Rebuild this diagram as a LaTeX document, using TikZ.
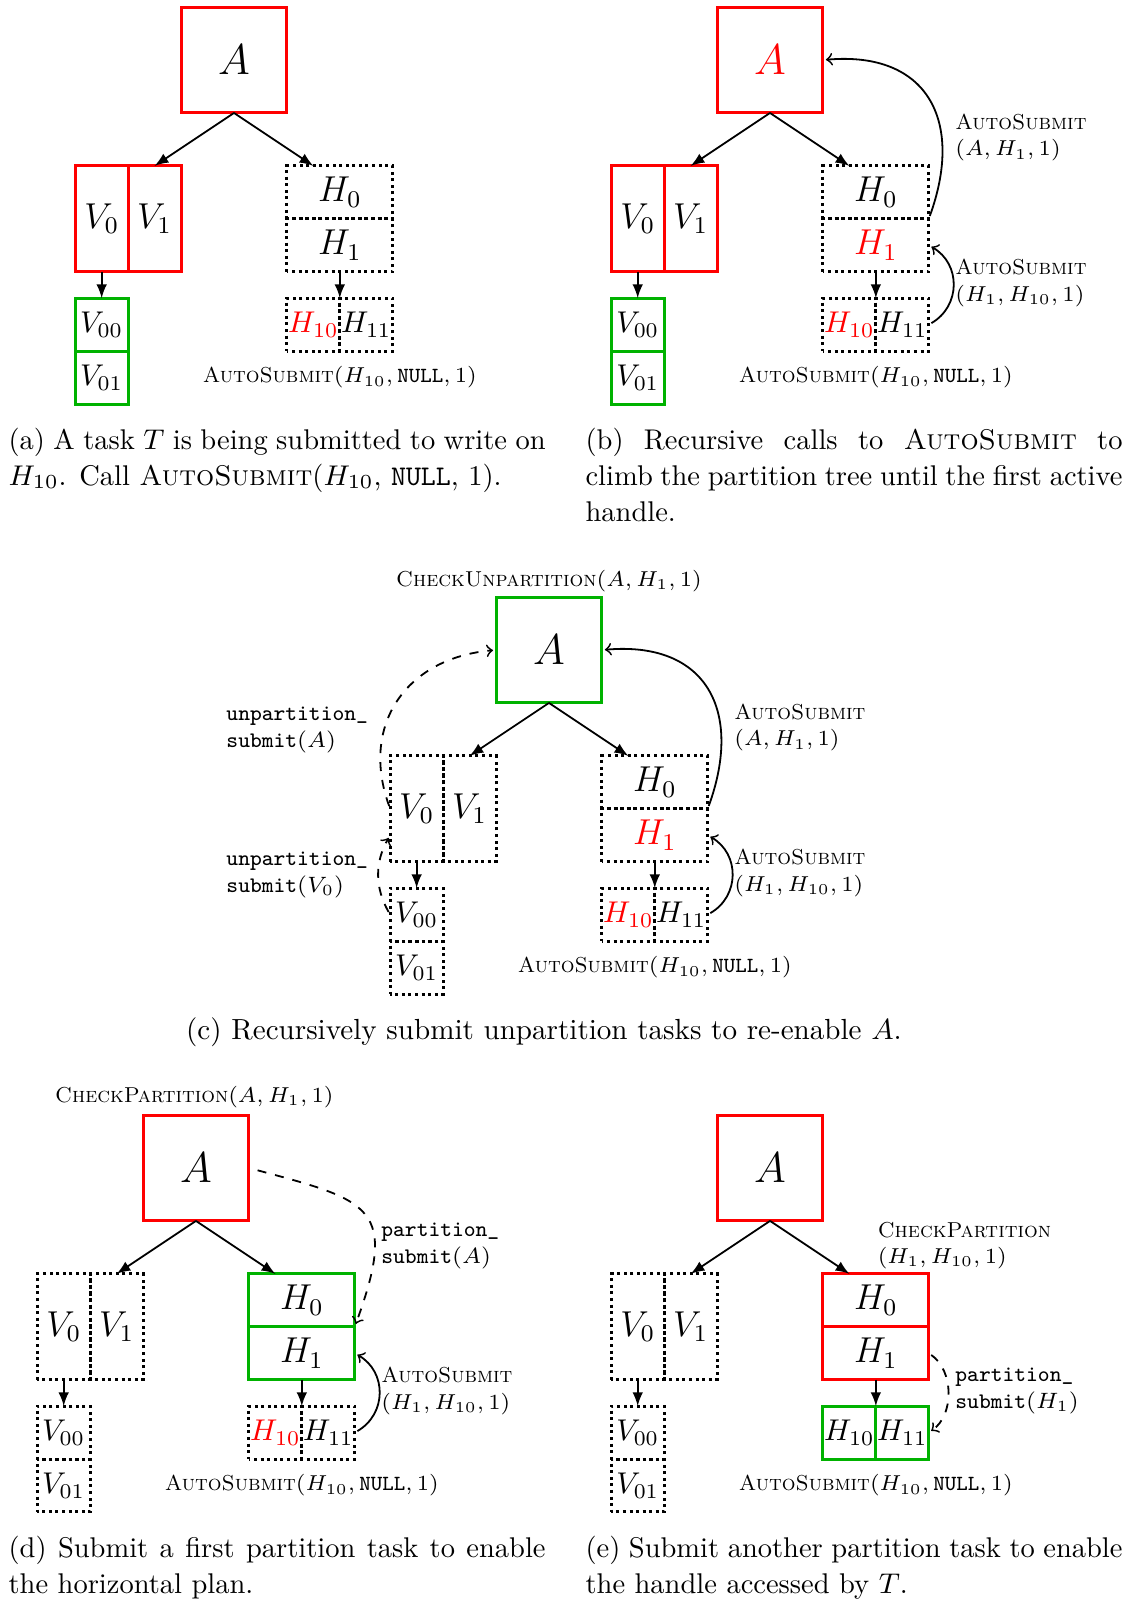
\RequirePackage{fix-cm}
\documentclass[tikz,border=0pt]{standalone}
\usepackage{amsmath}
\usepackage{tikz}
\usetikzlibrary{arrows,positioning,calc}

\definecolor{okgreen}{RGB}{0,178,0}
\hyphenpenalty=10000

\begin{document}
\begin{tikzpicture}[node distance=0.62cm, auto,
    box/.style={draw, line width=1pt, inner sep=0pt, outer sep=0pt},
    handle/.style={box, minimum width=1.24cm, minimum height=1.24cm, font=\Large},
    vpart/.style={box, minimum width=0.62cm, minimum height=1.24cm, font=\large},
    hpart/.style={box, minimum width=1.24cm, minimum height=0.62cm, font=\large},
    leaf/.style={box, minimum width=0.62cm, minimum height=0.62cm},
    busy/.style={draw=red},
    ready/.style={draw=okgreen},
    idle/.style={draw=black, dash pattern=on 1pt off 1.197pt, dash phase=0.5pt},
    link/.style={-latex, semithick},
    call/.style={->, semithick, shorten <=1pt, shorten >=1pt},
    lbl/.style={font=\fontsize{7.2}{8.8}\selectfont, inner sep=1pt, align=left},
    ttlbl/.style={lbl, font=\fontsize{7.4}{9}\selectfont},
    subcap/.style={text width=179pt, align=justify, inner sep=0pt, anchor=base west,
                   font=\fontsize{9.5}{12}\selectfont}]
  \useasboundingbox (0,0) rectangle (13.262,-18.756);

  % (a)
  \begin{scope}[shift={(2.741,-0.703)}, name prefix=a-]
    \node[handle, busy] (A) {$A$};
    \node[vpart, busy, below left=0.62cm and 0.62cm of A.south] (V1) {$V_1$};
    \node[vpart, busy, left=0pt of V1] (V0) {$V_0$};
    \node[leaf, ready, below=0.31cm of V0] (V00) {$V_{00}$};
    \node[leaf, ready, below=0pt of V00] (V01) {$V_{01}$};
    \node[hpart, idle, below right=0.62cm and 0.62cm of A.south] (H0) {$H_0$};
    \node[hpart, idle, below=0pt of H0] (H1) {$H_1$};
    \node[leaf, idle, text=red, below left=0.31cm and 0pt of H1.south] (H10) {$H_{10}$};
    \node[leaf, idle, right=0pt of H10] (H11) {$H_{11}$};
    \node[lbl] (auto) at ($(H10.south east)+(0,-0.31)$) {\textsc{AutoSubmit}$(H_{10}, \texttt{NULL}, 1)$};
    \path[link] (A.south) edge (V1.north)
                          edge ($(H0.north west)!0.5!(H0.north)$)
                (V0.south) edge (V00.north)
                (H1.south) edge (H10.north east);
  \end{scope}

  % (b)
  \begin{scope}[shift={(9.021,-0.703)}, name prefix=b-]
    \node[handle, busy, text=red] (A) {$A$};
    \node[vpart, busy, below left=0.62cm and 0.62cm of A.south] (V1) {$V_1$};
    \node[vpart, busy, left=0pt of V1] (V0) {$V_0$};
    \node[leaf, ready, below=0.31cm of V0] (V00) {$V_{00}$};
    \node[leaf, ready, below=0pt of V00] (V01) {$V_{01}$};
    \node[hpart, idle, below right=0.62cm and 0.62cm of A.south] (H0) {$H_0$};
    \node[hpart, idle, text=red, below=0pt of H0] (H1) {$H_1$};
    \node[leaf, idle, text=red, below left=0.31cm and 0pt of H1.south] (H10) {$H_{10}$};
    \node[leaf, idle, right=0pt of H10] (H11) {$H_{11}$};
    \node[lbl] (auto) at ($(H10.south east)+(0,-0.31)$) {\textsc{AutoSubmit}$(H_{10}, \texttt{NULL}, 1)$};
    \node[lbl, anchor=west] (upA) at ($(H0.north east)+(0.27,0.33)$) {\textsc{AutoSubmit}\\$(A, H_1, 1)$};
    \node[lbl, anchor=west] (upH1) at ($(H1.south east)+(0.27,-0.13)$) {\textsc{AutoSubmit}\\$(H_1, H_{10}, 1)$};
    \path[link] (A.south) edge (V1.north)
                          edge ($(H0.north west)!0.5!(H0.north)$)
                (V0.south) edge (V00.north)
                (H1.south) edge (H10.north east);
    \draw[call] (H0.south east) to[out=70, in=5, looseness=1.4] (A.east);
    \draw[call] (H11.east) to[bend right=60, looseness=1.2] (H1.east);
  \end{scope}

  % (c)
  \begin{scope}[shift={(6.431,-7.615)}, name prefix=c-]
    \node[handle, ready] (A) {$A$};
    \node[vpart, idle, below left=0.62cm and 0.62cm of A.south] (V1) {$V_1$};
    \node[vpart, idle, left=0pt of V1] (V0) {$V_0$};
    \node[leaf, idle, below=0.31cm of V0] (V00) {$V_{00}$};
    \node[leaf, idle, below=0pt of V00] (V01) {$V_{01}$};
    \node[hpart, idle, below right=0.62cm and 0.62cm of A.south] (H0) {$H_0$};
    \node[hpart, idle, text=red, below=0pt of H0] (H1) {$H_1$};
    \node[leaf, idle, text=red, below left=0.31cm and 0pt of H1.south] (H10) {$H_{10}$};
    \node[leaf, idle, right=0pt of H10] (H11) {$H_{11}$};
    \node[lbl] (auto) at ($(H10.south east)+(0,-0.31)$) {\textsc{AutoSubmit}$(H_{10}, \texttt{NULL}, 1)$};
    \node[lbl] (check) at ($(A.north)+(0,0.19)$) {\textsc{CheckUnpartition}$(A, H_1, 1)$};
    \node[lbl, anchor=west] (upA) at ($(H0.north east)+(0.27,0.33)$) {\textsc{AutoSubmit}\\$(A, H_1, 1)$};
    \node[lbl, anchor=west] (upH1) at ($(H1.south east)+(0.27,-0.13)$) {\textsc{AutoSubmit}\\$(H_1, H_{10}, 1)$};
    \node[ttlbl, anchor=west] (unA) at ($(V0.north west)+(-1.96,0.30)$) {\texttt{unpartition\_}\\\texttt{submit}$(A)$};
    \node[ttlbl, anchor=west] (unV0) at ($(V0.south west)+(-1.96,-0.15)$) {\texttt{unpartition\_}\\\texttt{submit}$(V_0)$};
    \path[link] (A.south) edge (V1.north)
                          edge ($(H0.north west)!0.5!(H0.north)$)
                (V0.south) edge (V00.north)
                (H1.south) edge (H10.north east);
    \draw[call] (H0.south east) to[out=70, in=5, looseness=1.4] (A.east);
    \draw[call] (H11.east) to[bend right=60, looseness=1.2] (H1.east);
    \draw[call, dashed] (V0.west) to[out=110, in=185, looseness=1.2] (A.west);
    \draw[call, dashed] (V00.west) to[bend left=30] ($(V0.west)!0.5!(V0.south west)$);
  \end{scope}

  % (d)
  \begin{scope}[shift={(2.296,-13.683)}, name prefix=d-]
    \node[handle, busy] (A) {$A$};
    \node[vpart, idle, below left=0.62cm and 0.62cm of A.south] (V1) {$V_1$};
    \node[vpart, idle, left=0pt of V1] (V0) {$V_0$};
    \node[leaf, idle, below=0.31cm of V0] (V00) {$V_{00}$};
    \node[leaf, idle, below=0pt of V00] (V01) {$V_{01}$};
    \node[hpart, ready, below right=0.62cm and 0.62cm of A.south] (H0) {$H_0$};
    \node[hpart, ready, below=0pt of H0] (H1) {$H_1$};
    \node[leaf, idle, text=red, below left=0.31cm and 0pt of H1.south] (H10) {$H_{10}$};
    \node[leaf, idle, right=0pt of H10] (H11) {$H_{11}$};
    \node[lbl] (auto) at ($(H10.south east)+(0,-0.31)$) {\textsc{AutoSubmit}$(H_{10}, \texttt{NULL}, 1)$};
    \node[lbl] (check) at ($(A.north)+(-0.02,0.21)$) {\textsc{CheckPartition}$(A, H_1, 1)$};
    \node[ttlbl, anchor=west] (partA) at ($(H0.north east)+(0.27,0.33)$) {\texttt{partition\_}\\\texttt{submit}$(A)$};
    \node[lbl, anchor=west] (upH1) at ($(H1.south east)+(0.27,-0.13)$) {\textsc{AutoSubmit}\\$(H_1, H_{10}, 1)$};
    \path[link] (A.south) edge (V1.north)
                          edge ($(H0.north west)!0.5!(H0.north)$)
                (V0.south) edge (V00.north)
                (H1.south) edge (H10.north east);
    \draw[call, dashed, shorten <=3pt] (A.east) to[out=-15, in=70, looseness=1.7] (H0.south east);
    \draw[call] (H11.east) to[bend right=60, looseness=1.2] (H1.east);
  \end{scope}

  % (e)
  \begin{scope}[shift={(9.021,-13.683)}, name prefix=e-]
    \node[handle, busy] (A) {$A$};
    \node[vpart, idle, below left=0.62cm and 0.62cm of A.south] (V1) {$V_1$};
    \node[vpart, idle, left=0pt of V1] (V0) {$V_0$};
    \node[leaf, idle, below=0.31cm of V0] (V00) {$V_{00}$};
    \node[leaf, idle, below=0pt of V00] (V01) {$V_{01}$};
    \node[hpart, busy, below right=0.62cm and 0.62cm of A.south] (H0) {$H_0$};
    \node[hpart, busy, below=0pt of H0] (H1) {$H_1$};
    \node[leaf, ready, below left=0.31cm and 0pt of H1.south] (H10) {$H_{10}$};
    \node[leaf, ready, right=0pt of H10] (H11) {$H_{11}$};
    \node[lbl] (auto) at ($(H10.south east)+(0,-0.31)$) {\textsc{AutoSubmit}$(H_{10}, \texttt{NULL}, 1)$};
    \node[lbl, anchor=west] (check) at ($(H0.north)+(-0.02,0.33)$) {\textsc{CheckPartition}\\$(H_1, H_{10}, 1)$};
    \node[ttlbl, anchor=west] (partH1) at ($(H1.south east)+(0.27,-0.13)$) {\texttt{partition\_}\\\texttt{submit}$(H_1)$};
    \path[link] (A.south) edge (V1.north)
                          edge ($(H0.north west)!0.5!(H0.north)$)
                (V0.south) edge (V00.north)
                (H1.south) edge (H10.north east);
    \draw[call, dashed] (H1.east) to[bend left=55] (H11.east);
  \end{scope}

  % captions
  \node[subcap] (capa) at (0.094,-5.260) {(a) A task $T$ is being submitted to write on $H_{10}$. Call \textsc{AutoSubmit}($H_{10}$, \texttt{NULL}, 1).};
  \node[subcap] (capb) at (6.853,-5.260) {(b) Recursive calls to \textsc{AutoSubmit} to climb the partition tree until the first active handle.};
  \node[anchor=base, inner sep=0pt, font=\fontsize{9.7}{12}\selectfont] (capc) at (6.373,-12.172) {(c) Recursively submit unpartition tasks to re-enable $A$.};
  \node[subcap] (capd) at (0.094,-18.252) {(d) Submit a first partition task to enable the horizontal plan.};
  \node[subcap] (cape) at (6.853,-18.252) {(e) Submit another partition task to enable the handle accessed by $T$.};
\end{tikzpicture}
\end{document}
